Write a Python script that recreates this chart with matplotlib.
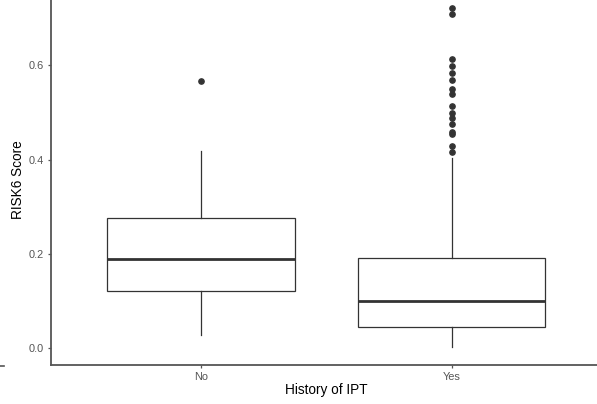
import matplotlib.pyplot as plt
from matplotlib.lines import Line2D

plt.rcParams['font.family'] = ['Liberation Sans', 'DejaVu Sans']

groups = ["No", "Yes"]
q1 = [0.121, 0.044]
median = [0.189, 0.100]
q3 = [0.276, 0.191]
whis_lo = [0.028, 0.0015]
whis_hi = [0.419, 0.404]
outliers = [
    [0.568],
    [0.722, 0.710, 0.613, 0.599, 0.583, 0.570, 0.550, 0.540, 0.514,
     0.499, 0.489, 0.476, 0.459, 0.455, 0.430, 0.417],
]

stats = []
for i, g in enumerate(groups):
    stats.append({
        "label": g, "q1": q1[i], "med": median[i], "q3": q3[i],
        "whislo": whis_lo[i], "whishi": whis_hi[i], "fliers": outliers[i],
    })

fig = plt.figure(figsize=(5.97, 4.04), dpi=100)
ax = fig.add_axes([51 / 597, 39 / 404, 550.7 / 597, 365 / 404])

line_col = "#333333"
ax.bxp(stats, positions=[1, 2], widths=0.75, patch_artist=True, showcaps=False,
       boxprops=dict(facecolor="white", edgecolor=line_col, linewidth=0.9),
       medianprops=dict(color=line_col, linewidth=2.0),
       whiskerprops=dict(color=line_col, linewidth=0.9),
       flierprops=dict(marker="o", markerfacecolor=line_col, markeredgecolor=line_col,
                       markersize=3.8))

ax.set_xlim(0.4, 2.6)
ax.set_ylim(-0.0361, 0.739)
ax.set_yticks([0.0, 0.2, 0.4, 0.6])
ax.set_yticklabels(["0.0", "0.2", "0.4", "0.6"])
ax.set_xticks([1, 2])
ax.set_xticklabels(groups)

for side in ["top", "right"]:
    ax.spines[side].set_visible(False)
for side in ["left", "bottom"]:
    ax.spines[side].set_color("#555555")
    ax.spines[side].set_linewidth(1.3)

ax.tick_params(axis="both", colors="#555555", labelcolor="#555555", labelsize=7.9,
               length=2.5, width=0.9, pad=2.5)

ax.set_xlabel("History of IPT", fontsize=9.8, color="black", labelpad=1)
ax.set_ylabel("RISK6 Score", fontsize=9.8, color="black")
ax.yaxis.set_label_coords(-0.047, 0.507)

# small stray dash at the left edge
fig.add_artist(Line2D([0, 4 / 597], [1 - 366 / 404, 1 - 366 / 404],
                      color="#555555", linewidth=1.2))

fig.savefig("out.png", dpi=100)
